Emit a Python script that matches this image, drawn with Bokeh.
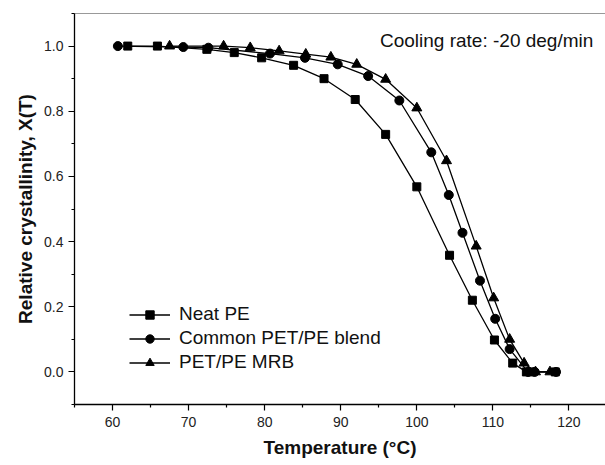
from bokeh.plotting import figure
from bokeh.models import LinearAxis, FixedTicker, Label, Legend, LegendItem, Range1d
from bokeh.embed import file_html
from bokeh.resources import INLINE

# Data
neat_T = [62.0, 65.9, 72.4, 76.0, 79.6, 83.8, 87.8, 91.9, 95.9, 100.0, 104.3, 107.3, 110.2, 112.6, 114.4, 115.0, 118.2]
neat_X = [1.0, 1.0, 0.99, 0.98, 0.964, 0.941, 0.90, 0.836, 0.729, 0.568, 0.358, 0.22, 0.098, 0.027, 0.0, 0.0, 0.0]

blend_T = [60.7, 69.3, 72.6, 80.7, 85.3, 89.6, 93.6, 97.7, 101.9, 104.2, 106.0, 108.3, 110.3, 112.2, 114.6, 115.5, 118.3]
blend_X = [1.0, 0.997, 0.995, 0.977, 0.964, 0.944, 0.908, 0.833, 0.674, 0.543, 0.427, 0.28, 0.163, 0.07, 0.0, 0.0, 0.0]

mrb_T = [67.5, 74.6, 78.1, 81.9, 85.4, 88.7, 92.1, 95.9, 100.0, 103.9, 107.8, 110.1, 112.2, 114.1, 115.6, 117.5]
mrb_X = [1.0, 1.0, 0.995, 0.985, 0.975, 0.966, 0.944, 0.898, 0.81, 0.648, 0.386, 0.227, 0.10, 0.027, 0.0, 0.0]

x_major = [60, 70, 80, 90, 100, 110, 120]
x_minor = [55, 65, 75, 85, 95, 105, 115, 125]
y_major = [0.0, 0.2, 0.4, 0.6, 0.8, 1.0]
y_minor = [-0.1, 0.1, 0.3, 0.5, 0.7, 0.9, 1.1]

FONT = "Liberation Sans"

p = figure(width=605, height=460, output_backend="svg", toolbar_location=None,
           x_range=Range1d(55, 124.8), y_range=Range1d(-0.1, 1.1),
           min_border_left=74, min_border_right=0, min_border_top=13, min_border_bottom=54,
           x_axis_label="Temperature (°C)", y_axis_label="Relative crystallinity, X(T)")
p.grid.visible = False
p.outline_line_color = None
p.background_fill_color = "white"
p.border_fill_color = "white"

for ax, maj, mnr in ((p.xaxis[0], x_major, x_minor), (p.yaxis[0], y_major, y_minor)):
    ax.ticker = FixedTicker(ticks=maj, minor_ticks=mnr)
    ax.axis_line_color = "black"
    ax.axis_line_width = 1.3
    ax.major_tick_line_color = "black"
    ax.minor_tick_line_color = "black"
    ax.major_tick_line_width = 1.2
    ax.minor_tick_line_width = 1.2
    ax.major_tick_out = 6
    ax.major_tick_in = 0
    ax.minor_tick_out = 3
    ax.minor_tick_in = 0
    ax.major_label_text_font = FONT
    ax.major_label_text_font_size = "14px"
    ax.major_label_text_color = "#222222"
    ax.axis_label_text_font = FONT
    ax.axis_label_text_font_size = "19px"
    ax.axis_label_text_font_style = "bold"
    ax.axis_label_text_color = "#111111"

p.xaxis[0].major_label_overrides = {v: str(v) for v in x_major}
p.yaxis[0].major_label_overrides = {v: f"{v:.1f}" for v in y_major}
p.xaxis[0].major_label_standoff = 6
p.xaxis[0].axis_label_standoff = 7
p.yaxis[0].major_label_standoff = 5
p.yaxis[0].axis_label_standoff = 5

top = LinearAxis(ticker=FixedTicker(ticks=[], minor_ticks=[]),
                 major_tick_line_color=None, minor_tick_line_color=None,
                 axis_line_color="#999999", axis_line_width=1.2,
                 major_label_standoff=0)
p.add_layout(top, "above")

lw = 1.3
l1 = p.line(neat_T, neat_X, line_color="black", line_width=lw)
s1 = p.scatter(neat_T, neat_X, marker="square", size=8, fill_color="black", line_color="black")
l2 = p.line(blend_T, blend_X, line_color="black", line_width=lw)
s2 = p.scatter(blend_T, blend_X, marker="circle", size=9, fill_color="black", line_color="black")
l3 = p.line(mrb_T, mrb_X, line_color="black", line_width=lw)
s3 = p.scatter(mrb_T, mrb_X, marker="triangle", size=10, fill_color="black", line_color="black")

legend = Legend(items=[
    LegendItem(label="Neat PE", renderers=[l1, s1]),
    LegendItem(label="Common PET/PE blend", renderers=[l2, s2]),
    LegendItem(label="PET/PE MRB", renderers=[l3, s3]),
], location=(55, 31), border_line_color=None, background_fill_alpha=0,
   label_text_font=FONT, label_text_font_size="19px", label_text_color="#111111",
   glyph_width=41, glyph_height=21, label_height=21, spacing=2, padding=0, margin=0,
   label_standoff=9)
p.add_layout(legend, "center")

lab = Label(x=123.2, y=1.018, text="Cooling rate: -20 deg/min", text_align="right",
            text_baseline="middle", text_font=FONT, text_font_size="19px", text_color="#111111")
p.add_layout(lab)

open("out.html", "w").write(file_html(p, INLINE))
